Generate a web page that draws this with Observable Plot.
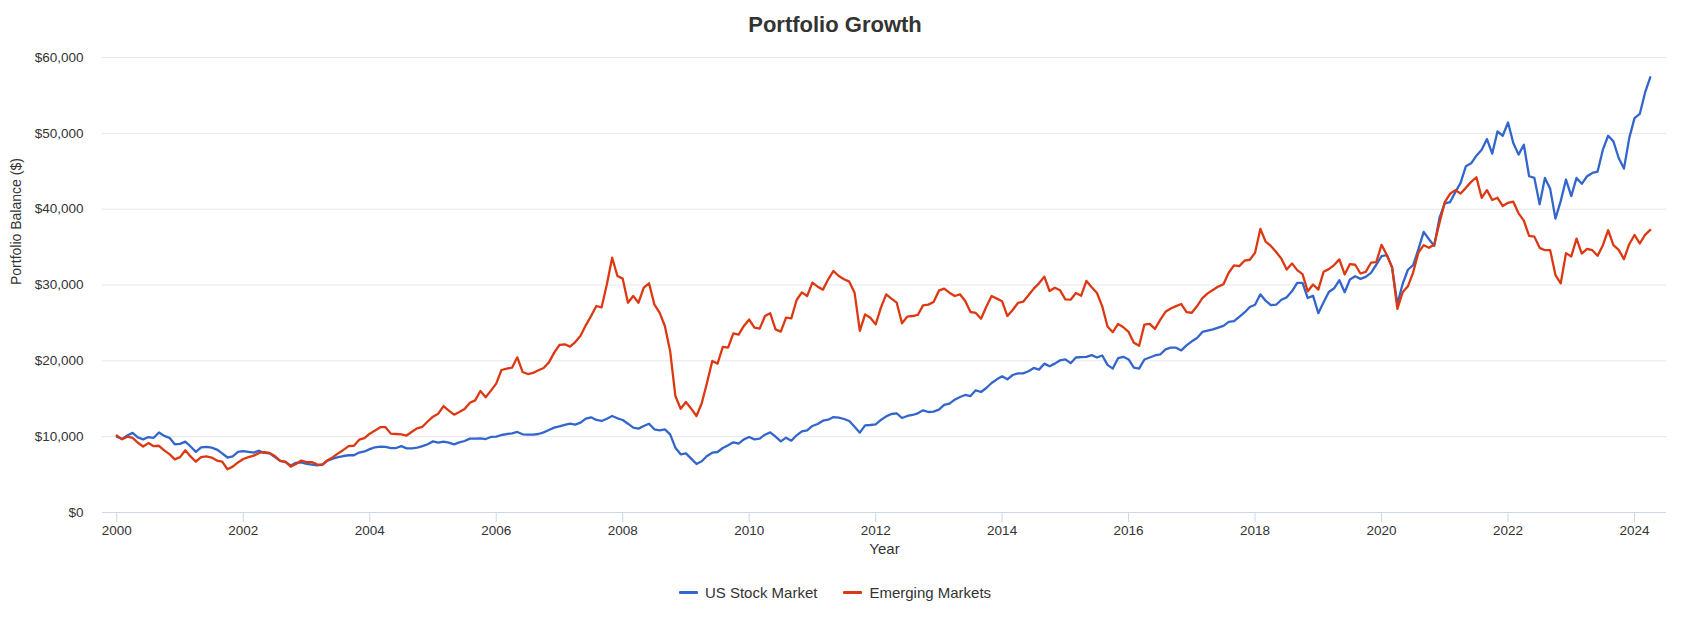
<!DOCTYPE html>
<html>
<head>
<meta charset="utf-8">
<script src="https://cdn.jsdelivr.net/npm/d3@7"></script>
<script src="https://cdn.jsdelivr.net/npm/@observablehq/plot@0.6"></script>
<style>
  html, body { margin: 0; padding: 0; background: #fff; }
  body { font-family: "Liberation Sans", Arial, sans-serif; }
  #wrap { position: relative; width: 1693px; height: 624px; overflow: hidden; }
  #title { position: absolute; left: 0; top: 1px; width: 1670px; height: 48px; line-height: 48px;
           text-align: center; font-size: 22px; font-weight: bold; color: #333; }
  #chart { position: absolute; left: 0; top: 0; }
  #legend { position: absolute; left: 0; top: 580px; width: 1670px; height: 24px;
            display: flex; justify-content: center; align-items: center; font-size: 15px; color: #333; }
  .item { display: flex; align-items: center; }
  .item + .item { margin-left: 26px; }
  .sw { display: inline-block; width: 19px; height: 3px; margin-right: 7px; border-radius: 1px; }
</style>
</head>
<body>
<div id="wrap">
  <div id="title">Portfolio Growth</div>
  <div id="chart"></div>
  <div id="legend"></div>
</div>
<script>
const seriesNames = ["US Stock Market", "Emerging Markets"];
const seriesColors = ["#3366cc", "#dc3912"];
const startYear = 2000;
const xTicks = [2000, 2002, 2004, 2006, 2008, 2010, 2012, 2014, 2016, 2018, 2020, 2022, 2024];
const yTicks = [0, 10000, 20000, 30000, 40000, 50000, 60000];

// Monthly balances, Jan 2000 onward
const usStock = [
  10000, 9700, 10150, 10500, 9900, 9650, 9950, 9850, 10550, 10100, 9850, 9000,
  9050, 9350, 8700, 8000, 8600, 8650, 8550, 8300, 7800, 7250, 7400, 8000,
  8100, 8000, 7900, 8150, 7850, 7800, 7300, 6800, 6650, 6200, 6550, 6600,
  6400, 6300, 6200, 6300, 6850, 7100, 7300, 7450, 7550, 7550, 7900, 8050,
  8350, 8600, 8700, 8650, 8500, 8500, 8750, 8450, 8450, 8550, 8750, 9000,
  9380, 9210, 9340, 9210, 8990, 9250, 9430, 9740, 9740, 9780, 9690, 9960,
  10000, 10220, 10350, 10440, 10620, 10310, 10260, 10260, 10350, 10570, 10880, 11190,
  11360, 11540, 11710, 11580, 11850, 12370, 12550, 12200, 12070, 12370, 12730, 12420,
  12200, 11710, 11190, 11060, 11410, 11710, 10970, 10840, 10970, 10310, 8550, 7670,
  7800, 7100, 6400, 6750, 7450, 7890, 7980, 8510, 8860, 9250, 9080, 9650,
  9950, 9650, 9740, 10260, 10570, 10000, 9380, 9870, 9470, 10180, 10700, 10840,
  11410, 11670, 12110, 12240, 12590, 12510, 12330, 12070, 11320, 10530, 11490, 11540,
  11630, 12200, 12680, 12990, 13080, 12460, 12730, 12860, 13080, 13470, 13250, 13300,
  13560, 14180, 14350, 14880, 15230, 15500, 15360, 16110, 15890, 16420, 17080, 17560,
  17960, 17560, 18130, 18350, 18350, 18620, 19060, 18840, 19630, 19280, 19630, 20070,
  20200, 19690, 20440, 20490, 20530, 20750, 20440, 20710, 19470, 18980, 20350, 20530,
  20180, 19110, 18980, 20180, 20440, 20710, 20840, 21510, 21730, 21730, 21370, 22040,
  22570, 23010, 23810, 23990, 24160, 24390, 24610, 25140, 25230, 25800, 26380, 27090,
  27400, 28770, 27930, 27350, 27400, 28060, 28370, 29170, 30280, 30280, 28280, 28590,
  26290, 27710, 29080, 29570, 30630, 29040, 30720, 31160, 30810, 31080, 31610, 32670,
  33820, 33950, 32320, 27500, 30130, 32010, 32620, 34720, 37000, 36030, 35160, 38880,
  40760, 40930, 42240, 43470, 45660, 46050, 47050, 47840, 49240, 47320, 50250, 49680,
  51430, 48720, 47190, 48500, 44340, 44120, 40630, 44120, 42680, 38750, 41060, 43910,
  41720, 44120, 43340, 44340, 44780, 44960, 47840, 49680, 48940, 46750, 45350, 49370,
  52000, 52560, 55360, 57400
];
const emergingMarkets = [
  10150, 9650, 10000, 9850, 9200, 8700, 9150, 8750, 8800, 8200, 7700, 7000,
  7300, 8200, 7400, 6700, 7300, 7400, 7250, 6850, 6700, 5700, 6050, 6600,
  7050, 7300, 7500, 7850, 7950, 7850, 7450, 6800, 6700, 6050, 6400, 6850,
  6650, 6650, 6350, 6300, 6900, 7300, 7800, 8250, 8750, 8800, 9600, 9800,
  10400, 10800, 11250, 11250, 10400, 10350, 10300, 10150, 10650, 11100, 11300, 12000,
  12640, 13030, 14040, 13430, 12900, 13250, 13650, 14480, 14790, 16020, 15190, 16070,
  16990, 18790, 18970, 19100, 20460, 18530, 18260, 18400, 18750, 19060, 19800, 21080,
  22090, 22180, 21870, 22480, 23320, 24680, 25910, 27230, 27060, 30090, 33600, 31190,
  30840, 27670, 28550, 27670, 29650, 30220, 27450, 26350, 24590, 21300, 15360, 13690,
  14570, 13690, 12730, 14400, 17120, 19980, 19630, 21830, 21740, 23630, 23450, 24600,
  25450, 24370, 24240, 25910, 26270, 24150, 23850, 25690, 25600, 28020, 29030, 28550,
  30310, 29780, 29390, 30750, 31850, 31190, 30750, 30440, 28990, 23940, 26130, 25690,
  24810, 27010, 28770, 28200, 27670, 24950, 25830, 25910, 26050, 27320, 27410, 27760,
  29250, 29520, 28990, 28550, 28770, 27890, 26440, 26310, 25560, 27140, 28550, 28200,
  27850, 25910, 26700, 27630, 27800, 28640, 29520, 30220, 31100, 29210, 29650, 29300,
  28110, 28060, 28950, 28590, 30540, 29700, 28950, 27180, 24520, 23770, 24870, 24430,
  23810, 22390, 21990, 24780, 24870, 24210, 25400, 26470, 26910, 27220, 27490, 26420,
  26340, 27220, 28280, 28900, 29350, 29790, 30100, 31610, 32580, 32490, 33200, 33330,
  34260, 37400, 35730, 35150, 34350, 33470, 32050, 32850, 31960, 31430, 29170, 30060,
  29390, 31740, 32090, 32630, 33380, 31390, 32760, 32670, 31520, 31740, 32940, 33020,
  35300, 33950, 32320, 26850, 29040, 29830, 31660, 34290, 35250, 34900, 35340, 38220,
  40930, 42030, 42510, 42070, 42810, 43600, 44210, 41500, 42510, 41200, 41500, 40410,
  40840, 40980, 39450, 38480, 36470, 36380, 34900, 34590, 34590, 31310, 30220, 34200,
  33760, 36120, 34150, 34770, 34590, 33850, 35250, 37220, 35250, 34640, 33410, 35380,
  36600, 35470, 36600, 37260
];

const rows = [];
[usStock, emergingMarkets].forEach((vals, s) => {
  vals.forEach((v, i) => rows.push({series: seriesNames[s], t: startYear + i / 12, v}));
});

const fontFamily = '"Liberation Sans", Arial, sans-serif';
const chart = Plot.plot({
  width: 1693,
  height: 570,
  marginTop: 57,
  marginBottom: 58,
  marginLeft: 102,
  marginRight: 27,
  style: {fontFamily, fontSize: "13.5px", color: "#333", background: "transparent"},
  x: {type: "linear", domain: [1999.774, 2024.506]},
  y: {domain: [0, 60000]},
  color: {domain: seriesNames, range: seriesColors},
  marks: [
    Plot.gridY(yTicks, {stroke: "#e6e6e6", strokeOpacity: 1}),
    Plot.ruleY([0], {stroke: "#ccd6eb", strokeWidth: 1}),
    Plot.axisX(xTicks, {tickSize: 10, tickPadding: 3, stroke: "#ccd6eb", fill: "#333",
      tickFormat: d => String(d), label: null}),
    Plot.axisY(yTicks, {tickSize: 0, tickPadding: 19, fill: "#333",
      tickFormat: d3.format("$,"), label: null}),
    Plot.lineY(rows, {x: "t", y: "v", z: "series", stroke: "series", strokeWidth: 2.3,
      strokeLinejoin: "round", strokeLinecap: "round"}),
    Plot.text(["Year"], {frameAnchor: "bottom", dy: 41, fontSize: 15, fill: "#333"}),
    Plot.text(["Portfolio Balance ($)"], {frameAnchor: "left", dx: -86, rotate: -90,
      fontSize: 14, fill: "#333"})
  ]
});
document.getElementById("chart").appendChild(chart);

const legend = document.getElementById("legend");
seriesNames.forEach((name, i) => {
  const item = document.createElement("div");
  item.className = "item";
  const sw = document.createElement("span");
  sw.className = "sw";
  sw.style.background = seriesColors[i];
  const label = document.createElement("span");
  label.textContent = name;
  item.appendChild(sw);
  item.appendChild(label);
  legend.appendChild(item);
});
</script>
</body>
</html>
